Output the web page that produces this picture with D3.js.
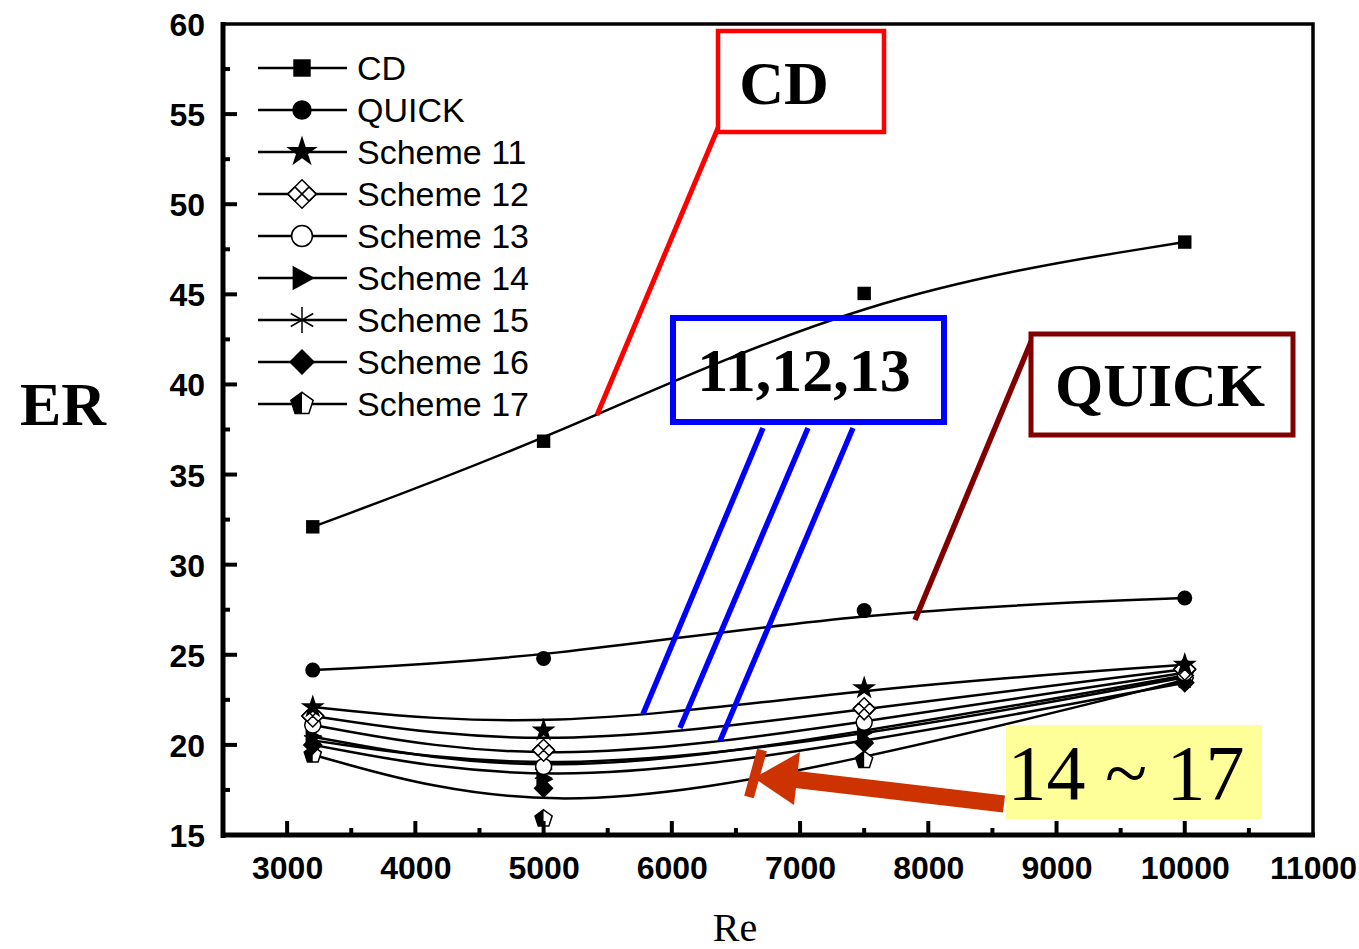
<!DOCTYPE html>
<html><head><meta charset="utf-8">
<script src="https://cdn.jsdelivr.net/npm/d3@7"></script>
<style>body{margin:0;background:#fff}svg{display:block}</style>
</head><body>
<svg id="chart" width="1359" height="949"></svg>
<script>
const reValues = [3200, 5000, 7500, 10000];
const seriesNames = ["CD","QUICK","Scheme 11","Scheme 12","Scheme 13","Scheme 14","Scheme 15","Scheme 16","Scheme 17"];
const cdValues   = [32.1, 36.85, 45.05, 47.9];
const quickValues= [24.15, 24.8, 27.45, 28.15];
const s11Values  = [22.1, 20.8, 23.15, 24.45];
const s12Values  = [21.6, 19.7, 22.0, 24.2];
const s13Values  = [21.1, 18.8, 21.25, 24.0];
const s14Values  = [20.45, 18.1, 20.7, 23.85];
const s15Values  = [20.25, 18.4, 20.45, 23.75];
const s16Values  = [20.0, 17.6, 20.1, 23.45];
const s17Values  = [19.45, 15.9, 19.15, 23.6];
const xTicks = [3000,4000,5000,6000,7000,8000,9000,10000,11000];
const yTicks = [15,20,25,30,35,40,45,50,55,60];
const markerKinds = ["square","circle","star","xdiamond","ocircle","triangle","asterisk","diamond","pentagon"];
const allValues = [cdValues,quickValues,s11Values,s12Values,s13Values,s14Values,s15Values,s16Values,s17Values];

const svg = d3.select("#chart");
const L=223, R=1313, T=24, B=835;
const x = d3.scaleLinear().domain([2500,11000]).range([L,R]);
const y = d3.scaleLinear().domain([15,60]).range([B,T]);

function drawMarker(g, kind, k){
  k = k||1;
  const sym = (t,s)=>d3.symbol().type(t).size(s*k*k)();
  if(kind==="square") g.append("path").attr("d",sym(d3.symbolSquare,180)).attr("fill","#000");
  else if(kind==="circle") g.append("circle").attr("r",7.5*k).attr("fill","#000");
  else if(kind==="star") g.append("path").attr("d",sym(d3.symbolStar,180)).attr("fill","#000");
  else if(kind==="diamond"){ const r=10*k; g.append("path").attr("d",`M0,${-r}L${r},0L0,${r}L${-r},0Z`).attr("fill","#000"); }
  else if(kind==="ocircle") g.append("circle").attr("r",8*k).attr("fill","#fff").attr("stroke","#000").attr("stroke-width",1.5);
  else if(kind==="triangle"){ const r=9*k; g.append("path").attr("d",`M${r*1.1},0L${-r*0.8},${-r*1.05}L${-r*0.8},${r*1.05}Z`).attr("fill","#000"); }
  else if(kind==="asterisk"){
    const r=10*k;
    [90,30,150].forEach(a=>{const t=a*Math.PI/180;g.append("line").attr("x1",-r*Math.cos(t)).attr("y1",-r*Math.sin(t)).attr("x2",r*Math.cos(t)).attr("y2",r*Math.sin(t)).attr("stroke","#000").attr("stroke-width",1.5);});
  }
  else if(kind==="xdiamond"){
    const r=11*k;
    g.append("path").attr("d",`M0,${-r}L${r},0L0,${r}L${-r},0Z`).attr("fill","#fff").attr("stroke","#000").attr("stroke-width",1.5);
    g.append("path").attr("d",`M${-r/2},${-r/2}L${r/2},${r/2}M${r/2},${-r/2}L${-r/2},${r/2}M${-r},0L${-r/2},${-r/2}M${r},0L${r/2},${-r/2}M${-r},0L${-r/2},${r/2}M${r},0L${r/2},${r/2}`)
     .attr("fill","none").attr("stroke","#000").attr("stroke-width",1.5);
  }
  else if(kind==="pentagon"){
    const r=9*k, pts=d3.range(5).map(i=>{const a=-Math.PI/2+i*2*Math.PI/5;return [r*Math.cos(a),r*Math.sin(a)];});
    g.append("path").attr("d","M"+pts.join("L")+"Z").attr("fill","#fff").attr("stroke","#000").attr("stroke-width",1.5);
    g.append("path").attr("d",`M0,${-r}L${pts[4][0]},${pts[4][1]}L${pts[3][0]},${pts[3][1]}L0,${pts[3][1]}Z`).attr("fill","#000");
  }
}

const line = d3.line().x((d,i)=>x(reValues[i])).y(d=>y(d)).curve(d3.curveBasis);
const plot = svg.append("g");
allValues.forEach(vals=>{
  plot.append("path").attr("d",line(vals)).attr("fill","none").attr("stroke","#000").attr("stroke-width",2.5);
});
allValues.slice().reverse().forEach((vals,ri)=>{
  const si = allValues.length-1-ri;
  vals.forEach((v,i)=>{
    const g = plot.append("g").attr("transform",`translate(${x(reValues[i])},${y(v)})`);
    drawMarker(g, markerKinds[si], 1);
  });
});

svg.append("rect").attr("x",L).attr("y",T).attr("width",R-L).attr("height",B-T).attr("fill","none").attr("stroke","#000").attr("stroke-width",3.5);
svg.append("line").attr("x1",L).attr("x2",L).attr("y1",T-2).attr("y2",B+3).attr("stroke","#000").attr("stroke-width",5);
svg.append("line").attr("x1",L-2).attr("x2",R+2).attr("y1",B).attr("y2",B).attr("stroke","#000").attr("stroke-width",5);

const xAxis = d3.axisBottom(x).tickValues(xTicks).tickSize(0).tickFormat(d3.format("d"));
const gx = svg.append("g").attr("transform",`translate(0,${B})`).call(xAxis);
gx.select(".domain").remove();
gx.selectAll("text").attr("font-family","Liberation Sans, Arial, sans-serif").attr("font-weight","bold").attr("font-size",32).attr("fill","#000").attr("dy",0).attr("y",44);
const yAxis = d3.axisLeft(y).tickValues(yTicks).tickSize(0);
const gy = svg.append("g").attr("transform",`translate(${L},0)`).call(yAxis);
gy.select(".domain").remove();
gy.selectAll("text").attr("font-family","Liberation Sans, Arial, sans-serif").attr("font-weight","bold").attr("font-size",32).attr("fill","#000").attr("x",-18).attr("dy","0.36em");

const ticks = svg.append("g").attr("stroke","#000").attr("stroke-width",4);
d3.range(3000,11000,500).forEach(v=>{
  const len = v%1000===0?14:7;
  ticks.append("line").attr("x1",x(v)).attr("x2",x(v)).attr("y1",B).attr("y2",B-len);
});
d3.range(17.5,60,2.5).forEach(v=>{
  const len = v%5===0?14:7;
  ticks.append("line").attr("x1",L).attr("x2",L+len).attr("y1",y(v)).attr("y2",y(v));
});

svg.append("text").attr("x",20).attr("y",425).attr("font-family","Liberation Serif, Times New Roman, serif").attr("font-weight","bold").attr("font-size",62).text("ER");
svg.append("text").attr("x",735).attr("y",941).attr("text-anchor","middle").attr("font-family","Liberation Serif, Times New Roman, serif").attr("font-size",40).text("Re");

const lg = svg.append("g");
seriesNames.forEach((name,i)=>{
  const yy = 68 + i*42;
  lg.append("line").attr("x1",258).attr("x2",347).attr("y1",yy).attr("y2",yy).attr("stroke","#000").attr("stroke-width",2.5);
  drawMarker(lg.append("g").attr("transform",`translate(302,${yy})`), markerKinds[i], 1.3);
  lg.append("text").attr("x",357).attr("y",yy).attr("dy","0.36em").attr("font-family","Liberation Sans, Arial, sans-serif").attr("font-size",34).text(name);
});

const ann = svg.append("g");
const serif = "Liberation Serif, Times New Roman, serif";
ann.append("line").attr("x1",718).attr("y1",128).attr("x2",597).attr("y2",415).attr("stroke","#ff0000").attr("stroke-width",5);
ann.append("rect").attr("x",718).attr("y",31).attr("width",166).attr("height",101).attr("fill","#fff").attr("stroke","#ff0000").attr("stroke-width",4.5);
ann.append("text").attr("x",784).attr("y",104).attr("text-anchor","middle").attr("font-family",serif).attr("font-weight","bold").attr("font-size",62).text("CD");
[[763,428,643,714],[808,428,680,728],[853,428,720,741]].forEach(p=>{
  ann.append("line").attr("x1",p[0]).attr("y1",p[1]).attr("x2",p[2]).attr("y2",p[3]).attr("stroke","#0000ff").attr("stroke-width",5.5);
});
ann.append("rect").attr("x",673).attr("y",318).attr("width",271).attr("height",104).attr("fill","none").attr("stroke","#0000ff").attr("stroke-width",6);
ann.append("text").attr("x",804).attr("y",391).attr("text-anchor","middle").attr("font-family",serif).attr("font-weight","bold").attr("font-size",62).text("11,12,13");
ann.append("line").attr("x1",1033).attr("y1",337).attr("x2",915).attr("y2",620).attr("stroke","#800000").attr("stroke-width",5.5);
ann.append("rect").attr("x",1031).attr("y",334).attr("width",262).attr("height",101).attr("fill","#fff").attr("stroke","#800000").attr("stroke-width",5);
ann.append("text").attr("x",1160).attr("y",406).attr("text-anchor","middle").attr("font-family",serif).attr("font-weight","bold").attr("font-size",62).text("QUICK");
ann.append("rect").attr("x",1006).attr("y",725).attr("width",256).attr("height",94).attr("fill","#ffff99");
ann.append("text").attr("x",1126).attr("y",799).attr("text-anchor","middle").attr("font-family",serif).attr("font-size",78).text("14 ~ 17");
ann.append("line").attr("x1",1004).attr("y1",804).attr("x2",792).attr("y2",779).attr("stroke","#cc3300").attr("stroke-width",17);
ann.append("path").attr("d","M800,752L794,805L754,778Z").attr("fill","#cc3300");
ann.append("line").attr("x1",762).attr("y1",750).attr("x2",749).attr("y2",797).attr("stroke","#cc3300").attr("stroke-width",10);
</script>
</body></html>
